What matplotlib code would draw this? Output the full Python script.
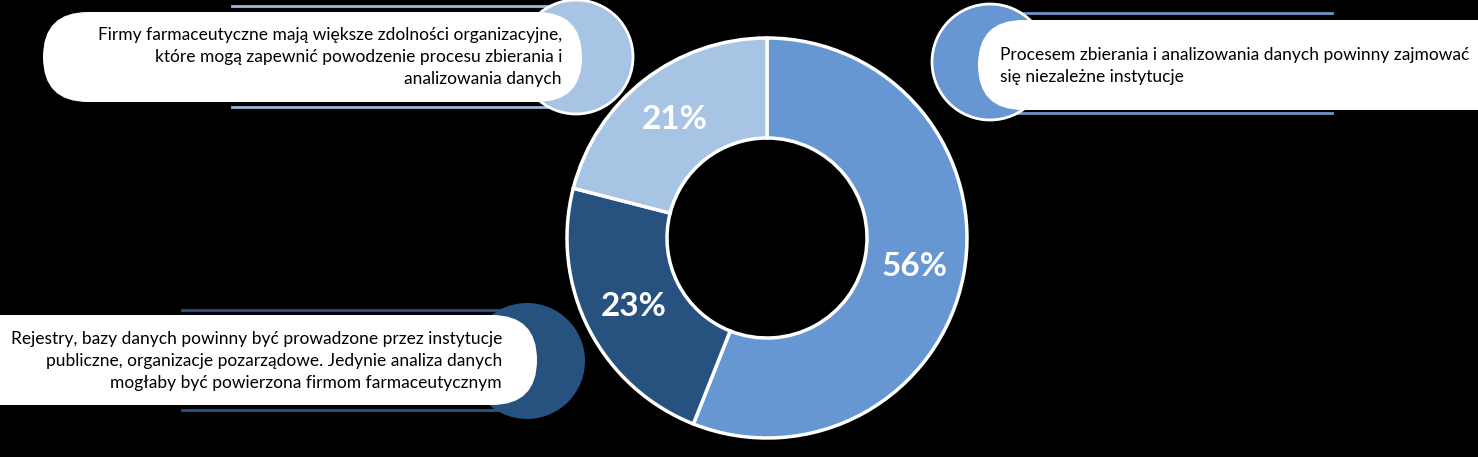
import matplotlib.pyplot as plt
from matplotlib.patches import Circle, FancyBboxPatch

# dane
udzialy = [56, 23, 21]
kolory = ['#6797d3', '#27527f', '#a7c4e5']
kolory_linii = ['#6f93c8', '#2a5584', '#9cb8dc']
opisy = [
    "Procesem zbierania i analizowania danych powinny zajmować\nsię niezależne instytucje",
    "Rejestry, bazy danych powinny być prowadzone przez instytucje\npubliczne, organizacje pozarządowe. Jedynie analiza danych\nmogłaby być powierzona firmom farmaceutycznym",
    "Firmy farmaceutyczne mają większe zdolności organizacyjne,\nktóre mogą zapewnić powodzenie procesu zbierania i\nanalizowania danych",
]

W, H = 1478, 457
plt.rcParams['font.family'] = ['Lato', 'DejaVu Sans']

fig = plt.figure(figsize=(W / 100, H / 100), dpi=100, facecolor='black')
ax = fig.add_axes([0, 0, 1, 1])
ax.set_facecolor('black')

def Y(y):
    # piksele liczone od góry
    return H - y

# wykres pierścieniowy
wedges, teksty, procenty = ax.pie(
    udzialy, colors=kolory, startangle=90, counterclock=False,
    center=(767, Y(238)), radius=200,
    autopct='%d%%', pctdistance=0.75,
    wedgeprops=dict(width=100, edgecolor='white', linewidth=2.5),
    textprops=dict(color='white', fontsize=24, fontweight='bold'))

# objaśnienia: (okrąg x, y, r), (pudełko x0, y0, x1, y1), linie (x0, x1, y_gora, y_dol), tekst
objasnienia = [
    dict(okrag=(990, 62, 58), box=(978, 20, 1560, 110), linie=(1010, 1332, 13, 113),
         tekst=(1000, 66), ha='left', krawedz='white'),
    dict(okrag=(527, 361, 58), box=(-45, 315, 537, 405), linie=(182, 520, 310, 410),
         tekst=(502, 361), ha='right', krawedz='none'),
    dict(okrag=(576, 57, 57), box=(43, 12, 582, 102), linie=(232, 560, 6, 107),
         tekst=(562, 57), ha='right', krawedz='white'),
]

for i, o in enumerate(objasnienia):
    x0, x1, yg, yd = o['linie']
    ax.plot([x0, x1], [Y(yg), Y(yg)], color=kolory_linii[i], lw=2, zorder=2)
    ax.plot([x0, x1], [Y(yd), Y(yd)], color=kolory_linii[i], lw=2, zorder=2)
    cx, cy, r = o['okrag']
    ax.add_patch(Circle((cx, Y(cy)), r, facecolor=kolory[i], edgecolor=o['krawedz'],
                        lw=2, zorder=3))
    bx0, by0, bx1, by1 = o['box']
    ax.add_patch(FancyBboxPatch((bx0, Y(by1)), bx1 - bx0, by1 - by0,
                                boxstyle='round,pad=0,rounding_size=45',
                                facecolor='white', edgecolor='none', zorder=4))
    tx, ty = o['tekst']
    ax.text(tx, Y(ty), opisy[i], ha=o['ha'], va='center', multialignment=o['ha'],
            fontsize=12.5, color='black', linespacing=1.45, zorder=5)

ax.set_xlim(0, W)
ax.set_ylim(0, H)
ax.set_aspect('equal')
ax.axis('off')

fig.savefig('out.png', dpi=100, facecolor='black')
